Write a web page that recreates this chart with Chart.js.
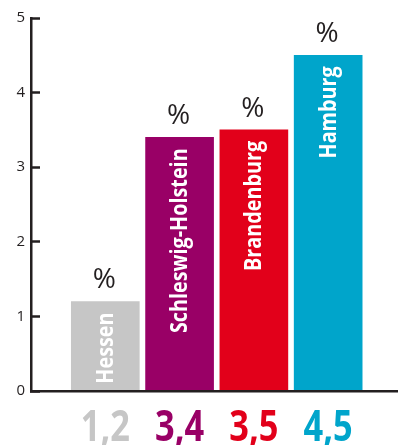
<!DOCTYPE html>
<html>
<head>
<meta charset="utf-8">
<script src="https://cdn.jsdelivr.net/npm/chart.js@4.4.1/dist/chart.umd.min.js"></script>
<style>
  html, body { margin: 0; padding: 0; background: #fff; }
  #wrap { width: 398px; height: 445px; }
</style>
</head>
<body>
<div id="wrap"><canvas id="chart"></canvas></div>
<script>
// data
const states = ["Hessen", "Schleswig-Holstein", "Brandenburg", "Hamburg"];
const shares = [1.2, 3.4, 3.5, 4.5];
const unit = "%";
const barColors = ["#c6c6c6", "#990066", "#e2001a", "#00a5cb"];

const ink = "#231f20";

// labels: "%" on top, state name inside the bar, value under the axis
const barLabels = {
  id: "barLabels",
  afterDatasetsDraw(chart) {
    const ctx = chart.ctx;
    const meta = chart.getDatasetMeta(0);
    meta.data.forEach((bar, i) => {
      ctx.save();
      ctx.fillStyle = ink;
      ctx.font = '28px "Open Sans"';
      ctx.textAlign = "center";
      ctx.textBaseline = "alphabetic";
      ctx.fillText(unit, bar.x - 1, bar.y - 13);
      ctx.restore();

      // name, rotated, ending near the bar top
      ctx.save();
      ctx.translate(bar.x + 1, bar.y + 11);
      ctx.rotate(-Math.PI / 2);
      ctx.scale(0.86, 1);
      ctx.fillStyle = "#fff";
      ctx.font = 'bold 23px "Open Sans"';
      ctx.textAlign = "right";
      ctx.textBaseline = "middle";
      ctx.fillText(states[i], 0, 0);
      ctx.restore();

      // value below the baseline
      ctx.save();
      ctx.translate(bar.x, 441);
      ctx.scale(0.8, 1);
      ctx.fillStyle = barColors[i];
      ctx.font = 'bold 43px "Open Sans"';
      ctx.textAlign = "center";
      ctx.textBaseline = "alphabetic";
      ctx.fillText(shares[i].toFixed(1).replace(".", ","), 0, 0);
      ctx.restore();
    });
  }
};

new Chart(document.getElementById("chart"), {
  type: "bar",
  data: {
    datasets: [{
      data: states.map((s, i) => ({ x: i + 1, y: shares[i] })),
      backgroundColor: barColors,
      borderWidth: 0,
      barThickness: 68
    }]
  },
  options: {
    responsive: true,
    maintainAspectRatio: false,
    animation: false,
    layout: { padding: { top: 18, right: 0, bottom: 54, left: 0 } },
    plugins: {
      legend: { display: false },
      tooltip: { enabled: false }
    },
    scales: {
      x: {
        type: "linear",
        offset: false,
        min: 0,
        max: 4.94,
        ticks: { display: false },
        grid: { display: false, drawTicks: false, offset: false },
        border: { display: true, color: ink, width: 2.5, z: 1 }
      },
      y: {
        min: 0,
        max: 5,
        afterFit(scale) {
          scale.width = 31;
          scale.paddingTop = 0;
          scale.paddingBottom = 0;
        },
        ticks: {
          stepSize: 1,
          color: ink,
          padding: 15,
          font: { family: "Open Sans", size: 15 }
        },
        grid: {
          drawOnChartArea: false,
          tickLength: -9,
          tickWidth: 2.5,
          tickColor: ink
        },
        border: { display: true, color: ink, width: 2.5 }
      }
    }
  },
  plugins: [barLabels]
});
</script>
</body>
</html>
